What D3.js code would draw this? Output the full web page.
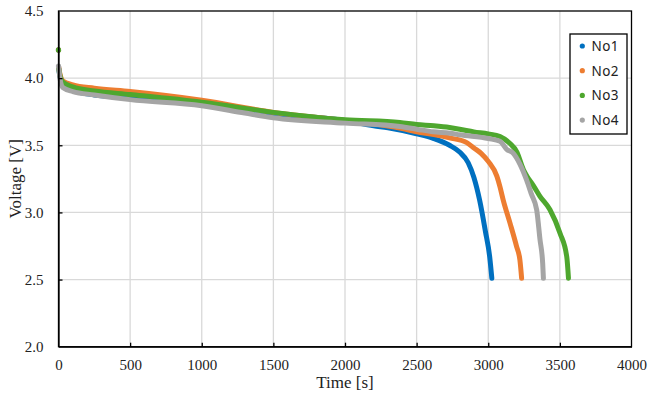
<!DOCTYPE html>
<html><head><meta charset="utf-8">
<script src="https://cdn.jsdelivr.net/npm/d3@7"></script>
<style>body{margin:0;background:#fff}svg{display:block}</style>
</head><body>
<script>
// ---- data ----
const seriesNames = ["No1", "No2", "No3", "No4"];
const seriesColors = ["#0070C0", "#ED7D31", "#4EA72E", "#A5A5A5"];
const xTicks = [0, 500, 1000, 1500, 2000, 2500, 3000, 3500, 4000];
const yTicks = [2.0, 2.5, 3.0, 3.5, 4.0, 4.5];

const no1Time = [0, 2, 10, 30, 100, 250, 500, 1000, 1500, 2000, 2200, 2300, 2500, 2620, 2730, 2800, 2860, 2900, 2940, 2980, 3010, 3025];
const no1Volt = [4.21, 4.07, 4.01, 3.96, 3.91, 3.875, 3.855, 3.81, 3.73, 3.685, 3.645, 3.63, 3.585, 3.55, 3.50, 3.45, 3.37, 3.26, 3.09, 2.86, 2.67, 2.51];

const no2Time = [0, 2, 10, 30, 100, 250, 500, 1000, 1500, 2000, 2400, 2500, 2620, 2730, 2850, 2900, 2950, 3000, 3060, 3082, 3105, 3152, 3198, 3221, 3233];
const no2Volt = [4.21, 4.08, 4.03, 3.98, 3.95, 3.925, 3.90, 3.835, 3.745, 3.685, 3.625, 3.60, 3.58, 3.555, 3.52, 3.48, 3.44, 3.38, 3.27, 3.19, 3.09, 2.92, 2.745, 2.646, 2.51];

const no3Time = [0, 2, 10, 30, 100, 250, 500, 1000, 1500, 2000, 2383, 2500, 2620, 2730, 2800, 2900, 3000, 3082, 3150, 3200, 3245, 3270, 3315, 3361, 3431, 3501, 3548, 3560];
const no3Volt = [4.21, 4.07, 4.02, 3.97, 3.935, 3.905, 3.878, 3.82, 3.745, 3.69, 3.67, 3.655, 3.645, 3.632, 3.62, 3.60, 3.585, 3.565, 3.515, 3.45, 3.32, 3.27, 3.20, 3.12, 3.02, 2.845, 2.67, 2.51];

const no4Time = [0, 2, 10, 30, 100, 250, 500, 1000, 1300, 1500, 2000, 2383, 2500, 2616, 2733, 2800, 3000, 3082, 3129, 3175, 3221, 3268, 3300, 3338, 3361, 3380, 3385];
const no4Volt = [4.09, 4.085, 4.0, 3.93, 3.90, 3.875, 3.84, 3.795, 3.74, 3.705, 3.665, 3.64, 3.62, 3.60, 3.59, 3.578, 3.55, 3.53, 3.47, 3.44, 3.36, 3.24, 3.14, 3.02, 2.80, 2.62, 2.51];

const seriesTimes = [no1Time, no2Time, no3Time, no4Time];
const seriesVolts = [no1Volt, no2Volt, no3Volt, no4Volt];

// ---- chart ----
const W = 660, H = 396;
const serif = "'Liberation Serif', 'Times New Roman', serif";
const svg = d3.select("body").append("svg").attr("width", W).attr("height", H);
svg.append("rect").attr("width", W).attr("height", H).attr("fill", "#fff");

const x = d3.scaleLinear().domain([0, 4000]).range([58.5, 631.5]);
const y = d3.scaleLinear().domain([2.0, 4.5]).range([346.7, 11]);

// gridlines
svg.append("g").selectAll("line").data(xTicks.slice(1, -1)).join("line")
  .attr("x1", d => x(d)).attr("x2", d => x(d)).attr("y1", y(2.0)).attr("y2", y(4.5))
  .attr("stroke", "#d9d9d9").attr("stroke-width", 1.3);
svg.append("g").selectAll("line").data(yTicks.slice(1, -1)).join("line")
  .attr("y1", d => y(d)).attr("y2", d => y(d)).attr("x1", x(0)).attr("x2", x(4000))
  .attr("stroke", "#d9d9d9").attr("stroke-width", 1.3);

// series
const line = d3.line().x(d => x(d[0])).y(d => y(d[1])).curve(d3.curveMonotoneX);
seriesNames.forEach((name, i) => {
  const pts = seriesTimes[i].map((t, k) => [t, seriesVolts[i][k]]);
  const g = svg.append("g");
  g.append("path").datum(pts.slice(1)).attr("d", line)
    .attr("fill", "none").attr("stroke", seriesColors[i]).attr("stroke-width", 5)
    .attr("stroke-linecap", "round").attr("stroke-linejoin", "round");
  g.append("circle").attr("cx", x(pts[0][0])).attr("cy", y(pts[0][1])).attr("r", 2.6)
    .attr("fill", seriesColors[i]);
});

// frame
svg.append("rect").attr("x", x(0)).attr("y", y(4.5))
  .attr("width", x(4000) - x(0)).attr("height", y(2.0) - y(4.5))
  .attr("fill", "none").attr("stroke", "#000").attr("stroke-width", 1.3);

// axes
const xAxis = svg.append("g").attr("transform", `translate(0,${y(2.0)})`)
  .call(d3.axisBottom(x).tickValues(xTicks).tickFormat(d3.format("d")).tickSizeInner(-4).tickSizeOuter(0).tickPadding(13));
const yAxis = svg.append("g").attr("transform", `translate(${x(0)},0)`)
  .call(d3.axisLeft(y).tickValues(yTicks).tickFormat(d3.format(".1f")).tickSizeInner(-4).tickSizeOuter(0).tickPadding(15));
[xAxis, yAxis].forEach(a => {
  a.attr("font-family", serif).attr("font-size", 15);
  a.select(".domain").attr("stroke", "#000").attr("stroke-width", 1.3);
  a.selectAll(".tick line").attr("stroke", "#000").attr("stroke-width", 1.3);
  a.selectAll(".tick text").style("font-family", serif).style("font-size", "15px").attr("fill", "#222");
});
xAxis.selectAll(".tick line").filter(d => d === 0 || d === 4000).remove();
yAxis.selectAll(".tick line").filter(d => d === 2.0 || d === 4.5).remove();

// axis titles
svg.append("text").attr("x", (x(0) + x(4000)) / 2).attr("y", 388)
  .attr("text-anchor", "middle").style("font-family", serif)
  .style("font-size", "17px").attr("fill", "#222").text("Time [s]");
svg.append("text").attr("transform", `translate(21,${(y(2.0) + y(4.5)) / 2}) rotate(-90)`)
  .attr("text-anchor", "middle").style("font-family", serif)
  .style("font-size", "17px").attr("fill", "#222").text("Voltage [V]");

// legend
const lg = svg.append("g");
lg.append("rect").attr("x", 570).attr("y", 34).attr("width", 57).attr("height", 100)
  .attr("fill", "#fff").attr("stroke", "#000").attr("stroke-width", 1.3);
seriesNames.forEach((name, i) => {
  const cy = 46 + i * 24.7;
  lg.append("circle").attr("cx", 582.3).attr("cy", cy).attr("r", 2.6).attr("fill", seriesColors[i]);
  lg.append("text").attr("x", 591.5).attr("y", cy).attr("dy", "0.36em")
    .style("font-family", "'Noto Sans', 'Liberation Sans', sans-serif").style("font-size", "13.5px")
    .attr("letter-spacing", 0.4).attr("fill", "#222").text(name);
});
</script>
</body></html>
